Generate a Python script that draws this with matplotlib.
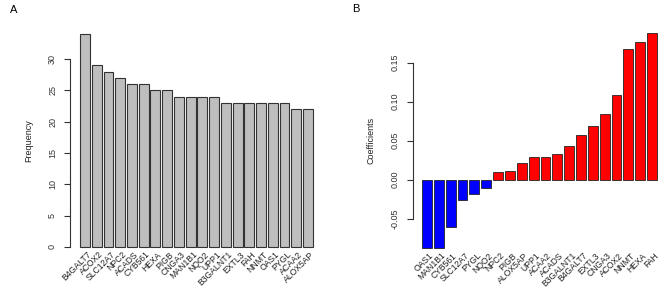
import matplotlib
matplotlib.use("Agg")
import matplotlib.pyplot as plt
import matplotlib.transforms as mtransforms
import numpy as np

plt.rcParams['font.family'] = ['Liberation Sans', 'DejaVu Sans']

# panel A: selection frequency
freq_genes = ["B4GALT7", "ACOX2", "SLC12A7", "NPC2", "ACADS", "CYB561", "HEXA", "PIGB",
              "CNGA3", "MAN1B1", "NQO2", "UPP1", "B3GALNT1", "EXTL3", "FAH", "NNMT",
              "OAS1", "PYGL", "ACAA2", "ALOX5AP"]
freq_vals = [34, 29, 28, 27, 26, 26, 25, 25, 24, 24, 24, 24, 23, 23, 23, 23, 23, 23, 22, 22]

# panel B: coefficients
coef_genes = ["OAS1", "MAN1B1", "CYB561", "SLC12A7", "PYGL", "NQO2", "NPC2", "PIGB",
              "ALOX5AP", "UPP1", "ACAA2", "ACADS", "B3GALNT1", "B4GALT7", "EXTL3", "CNGA3",
              "ACOX2", "NNMT", "HEXA", "FAH"]
coef_vals = [-0.088, -0.087, -0.061, -0.026, -0.018, -0.0105, 0.0095, 0.0115,
             0.022, 0.0295, 0.0295, 0.033, 0.043, 0.057, 0.069, 0.084,
             0.109, 0.168, 0.176, 0.188]

W, H = 663, 293
fig = plt.figure(figsize=(W / 100, H / 100), dpi=100)


def px_axes(x0, y0, x1, y1):
    return fig.add_axes([x0 / W, 1 - y1 / H, (x1 - x0) / W, (y1 - y0) / H])


def style(ax, lo, hi):
    for s in ("top", "right", "bottom"):
        ax.spines[s].set_visible(False)
    ax.spines["left"].set_bounds(lo, hi)
    ax.spines["left"].set_linewidth(0.8)
    ax.spines["left"].set_color("#333333")
    ax.tick_params(axis="y", length=4.3, width=0.8, color="#333333", labelsize=6.5,
                   pad=5, labelcolor="#333333")
    ax.tick_params(axis="x", length=0, labelsize=6.2, pad=-4, labelcolor="#222222")
    for t in ax.get_yticklabels():
        t.set_rotation(90)
        t.set_va("center")
    shift = mtransforms.ScaledTranslation(2 / 100, 0, fig.dpi_scale_trans)
    for t in ax.get_xticklabels():
        t.set_transform(t.get_transform() + shift)


bw = 0.833

# ---- A ----
axA = px_axes(70, 25.5, 323, 255.5)
x = np.arange(len(freq_vals))
axA.bar(x, freq_vals, width=bw, color="#bebebe", edgecolor="#333333", linewidth=0.8)
axA.set_xlim(-1.27, 20.27)
axA.set_ylim(-1.36, 35.36)
axA.set_yticks([0, 5, 10, 15, 20, 25, 30])
axA.set_xticks(x)
axA.set_xticklabels(freq_genes, rotation=45, ha="right", rotation_mode="anchor")
style(axA, 0, 30)
axA.set_ylabel("Frequency", fontsize=6.5, labelpad=11, color="#222222")
fig.text(10 / W, 1 - 10 / H, "A", fontsize=8, va="center", ha="left")

# ---- B ----
axB = px_axes(413, 24.5, 663, 256.6)
x = np.arange(len(coef_vals))
cols = ["#0000ff" if v < 0 else "#ff0000" for v in coef_vals]
axB.bar(x, coef_vals, width=bw, color=cols, edgecolor="#222222", linewidth=0.6)
axB.set_xlim(-1.18, 19.92)
axB.set_ylim(-0.0986, 0.199)
axB.set_yticks([-0.05, 0.0, 0.05, 0.10, 0.15])
axB.set_yticklabels(["-0.05", "0.00", "0.05", "0.10", "0.15"])
axB.set_xticks(x)
axB.set_xticklabels(coef_genes, rotation=45, ha="right", rotation_mode="anchor")
style(axB, -0.05, 0.15)
axB.set_ylabel("Coefficients", fontsize=6.5, labelpad=11, color="#222222")
fig.text(352 / W, 1 - 9 / H, "B", fontsize=8, va="center", ha="left")

fig.savefig("out.png", dpi=100)
